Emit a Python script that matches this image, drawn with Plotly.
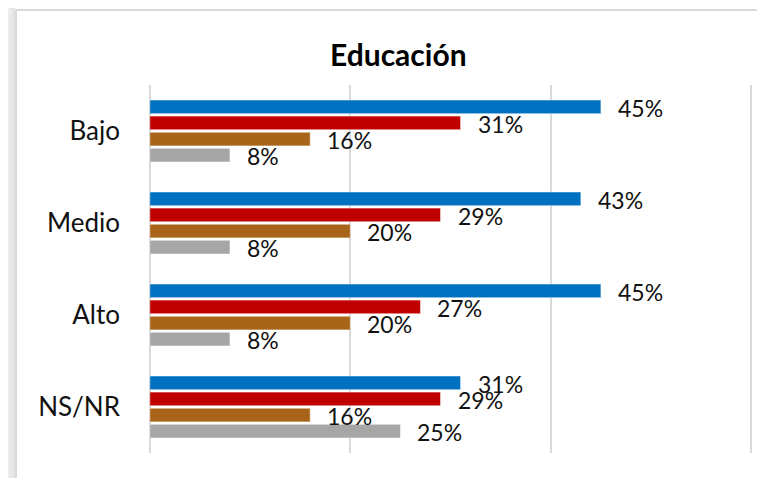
import plotly.graph_objects as go

categories = ["Bajo", "Medio", "Alto", "NS/NR"]
series_names = ["Serie 1", "Serie 2", "Serie 3", "Serie 4"]
values_s1 = [0.45, 0.43, 0.45, 0.31]
values_s2 = [0.31, 0.29, 0.27, 0.29]
values_s3 = [0.16, 0.20, 0.20, 0.16]
values_s4 = [0.08, 0.08, 0.08, 0.25]
colors = ["#0070C0", "#C00000", "#A8651A", "#A6A6A6"]
title_text = "Educación"

# page body margin offset (the figure is drawn 8px in from the page corner)
OFF = 8
W, H = 765 - OFF, 478 - OFF
L, R, T, B = 149 - OFF, 6, 85 - OFF, 25
PW, PH = W - L - R, H - T - B

# x scale: 0 -> 149.5 px, 0.6 -> 751 px
X0 = -0.0008
SCALE = (751 - 149.5) / 0.6
X1 = X0 + PW / SCALE


def px_x(px):
    return (px - OFF - L) / PW


def px_y(py):
    return (H - B - (py - OFF)) / PH


all_series = [values_s1, values_s2, values_s3, values_s4]

fig = go.Figure()
for name, vals, col in zip(series_names, all_series, colors):
    fig.add_trace(go.Bar(
        y=categories, x=vals, orientation="h", name=name,
        marker=dict(color=col, line=dict(color="rgba(255,255,255,0.5)", width=1)),
        hoverinfo="x+y",
    ))

annotations = []
for i, vals in enumerate(all_series):
    for cat, v in zip(categories, vals):
        annotations.append(dict(
            x=v, y=cat, xref="x", yref="y", text=f"{round(v * 100)}%",
            showarrow=False, xanchor="left", yanchor="middle",
            xshift=15, yshift=23 - 16 * i,
            font=dict(family="Lato", size=23, color="#111111"),
        ))

annotations.append(dict(
    x=px_x(398), y=px_y(54), xref="paper", yref="paper", text=f"<b>{title_text}</b>",
    showarrow=False, xanchor="center", yanchor="middle",
    font=dict(family="Lato", size=30, color="#000000"),
))

shapes = []
# left shadow
shade = ["#f6f6f6", "#f2f2f2", "#eeeeee", "#eaeaea", "#e4e4e4"]
for k, c in enumerate(shade):
    shapes.append(dict(type="rect", xref="paper", yref="paper",
                       x0=px_x(k * 3), x1=px_x(k * 3 + 3), y0=px_y(H + 40), y1=px_y(-5),
                       fillcolor=c, line=dict(width=0), layer="below"))
# chart frame
shapes.append(dict(type="rect", xref="paper", yref="paper",
                   x0=px_x(16), x1=px_x(800), y0=px_y(520), y1=px_y(10),
                   fillcolor="white", line=dict(color="#d9d9d9", width=2), layer="below"))

fig.update_layout(
    width=W, height=H,
    margin=dict(l=L, r=R, t=T, b=B),
    paper_bgcolor="white", plot_bgcolor="rgba(0,0,0,0)",
    barmode="group", bargap=0.3, bargroupgap=0.15,
    showlegend=False,
    annotations=annotations, shapes=shapes,
    font=dict(family="Lato", color="#111111"),
)
fig.update_xaxes(range=[X0, X1], tickvals=[0, 0.2, 0.4, 0.6], showgrid=True,
                 gridcolor="#d9d9d9", gridwidth=2, zeroline=True, zerolinecolor="#d9d9d9",
                 zerolinewidth=2, showticklabels=False, ticks="", showline=False)
fig.update_yaxes(autorange="reversed", categoryorder="array", categoryarray=categories,
                 ticks="", showgrid=False, zeroline=False, showline=False,
                 ticklabelstandoff=28, tickfont=dict(family="Lato", size=26, color="#111111"))

fig.write_html("out.html")
